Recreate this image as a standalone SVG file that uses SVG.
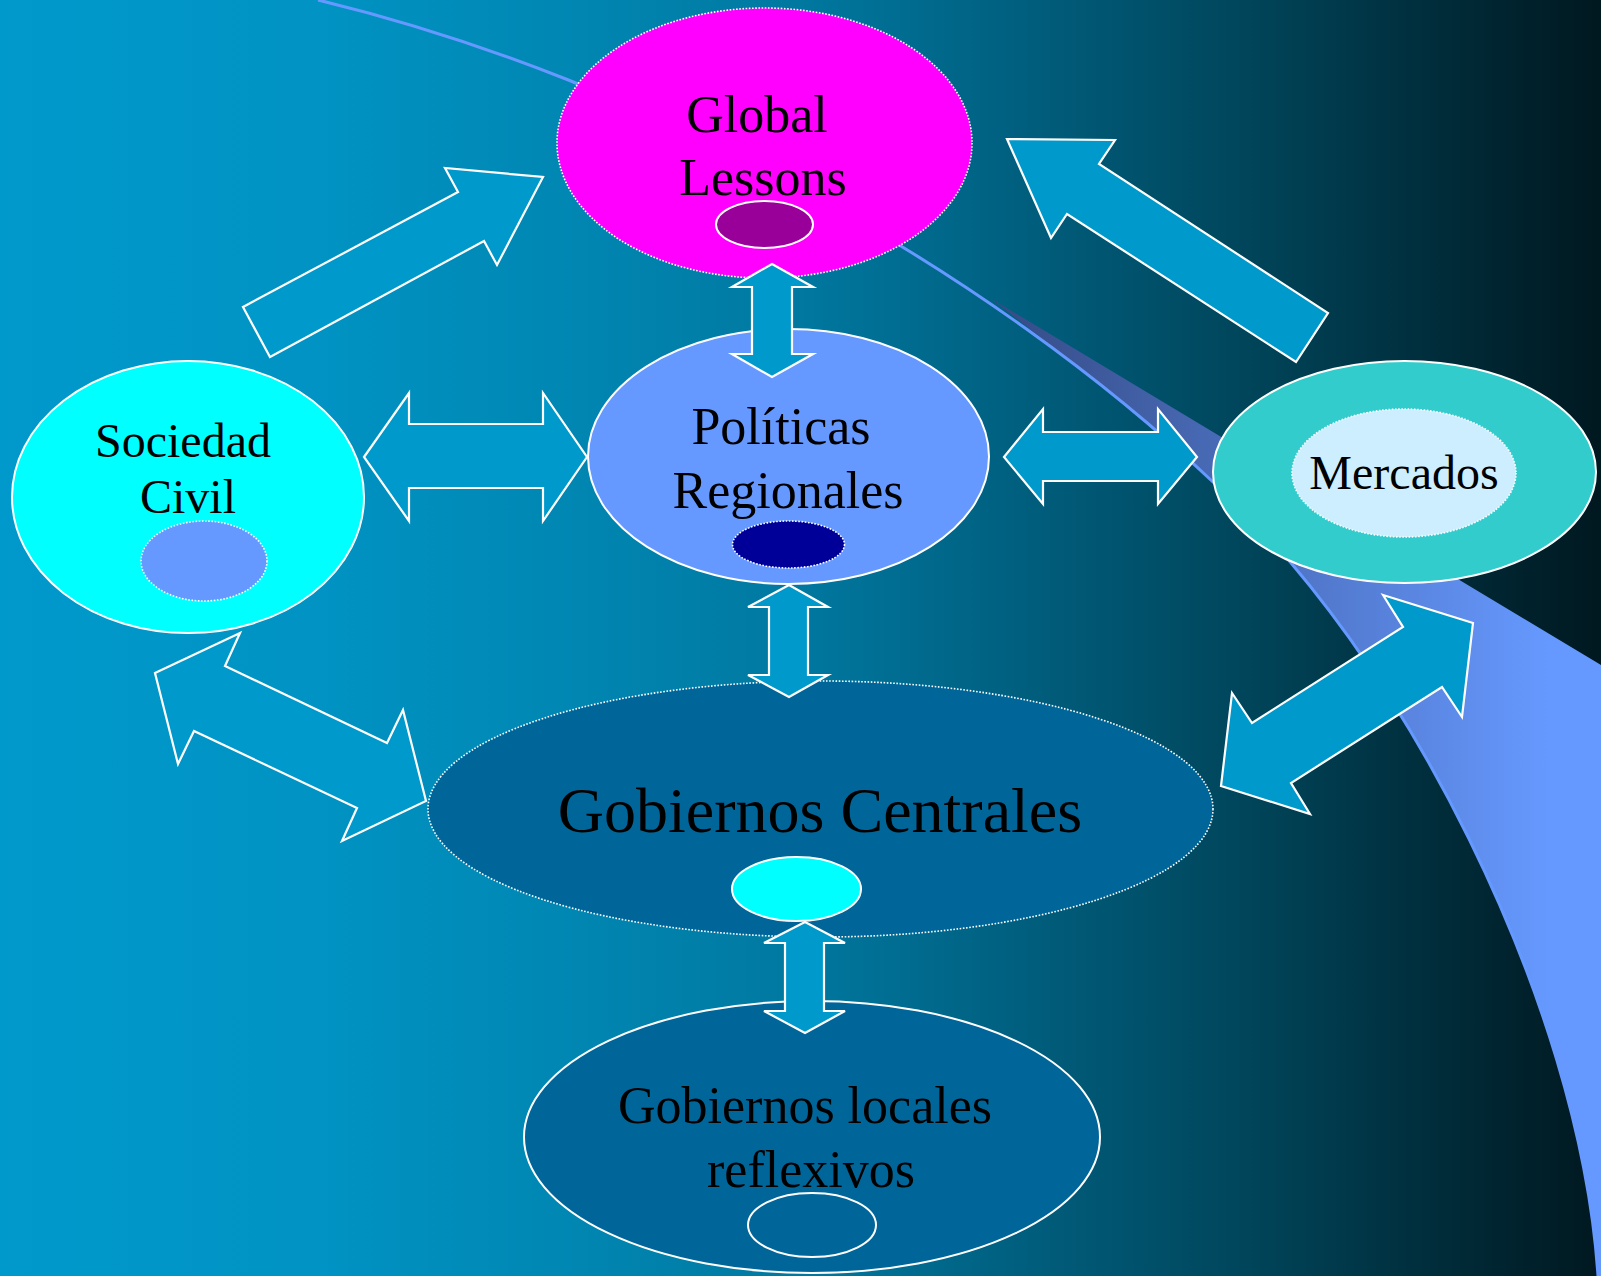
<svg xmlns="http://www.w3.org/2000/svg" width="1601" height="1276" viewBox="0 0 1601 1276">
<defs>
<linearGradient id="bg" x1="0" y1="0" x2="1" y2="0">
<stop offset="0" stop-color="#0099cc"/>
<stop offset="0.2" stop-color="#0093c3"/>
<stop offset="0.375" stop-color="#0085b0"/>
<stop offset="0.5" stop-color="#0078a0"/>
<stop offset="0.62" stop-color="#006283"/>
<stop offset="0.78" stop-color="#00455a"/>
<stop offset="0.9" stop-color="#002c3a"/>
<stop offset="1" stop-color="#001820"/>
</linearGradient>
<linearGradient id="wedge" gradientUnits="userSpaceOnUse" x1="990" y1="0" x2="1550" y2="0">
<stop offset="0" stop-color="#344a84"/>
<stop offset="1" stop-color="#6699ff"/>
</linearGradient>
<style>
.txt{font-family:"Liberation Serif","Times New Roman",serif;fill:#000;text-anchor:middle}
.solid{stroke:#fff;stroke-width:2}
.dotted{stroke:#fff;stroke-width:1.6;stroke-dasharray:1.6 1.6}
.arrow{fill:#0099cc;stroke:#fff;stroke-width:2.2;stroke-linejoin:miter}
</style>
</defs>
<rect width="1601" height="1276" fill="url(#bg)"/>
<g id="swoosh">
<path d="M990,298 L1601,665 L1601,1276 L1598,1276 C1580,1000 1400,650 1213,482 Q1110,390 990,298 Z" fill="url(#wedge)"/>
<path d="M318,0 C650,80 990,270 1213,482 C1400,650 1580,1000 1598,1276" fill="none" stroke="#6699ff" stroke-width="3"/>
</g>
<g id="global-lessons">
<ellipse cx="764.5" cy="143" rx="207.5" ry="135" fill="#ff00ff" class="dotted"/>
<ellipse cx="764.5" cy="224.5" rx="48.5" ry="23.5" fill="#990099" class="solid"/>
<text class="txt" font-size="52" x="757" y="132">Global</text>
<text class="txt" font-size="52" x="763" y="195">Lessons</text>
</g>
<g id="sociedad-civil">
<ellipse cx="188" cy="497" rx="176" ry="136" fill="#00ffff" class="solid"/>
<ellipse cx="204" cy="561" rx="63" ry="40" fill="#6699ff" class="dotted"/>
<text class="txt" font-size="48" x="183" y="457">Sociedad</text>
<text class="txt" font-size="48" x="188" y="513">Civil</text>
</g>
<g id="politicas-regionales">
<ellipse cx="788.5" cy="456.5" rx="200.5" ry="127.5" fill="#6699ff" class="solid"/>
<ellipse cx="788.5" cy="544.5" rx="56" ry="23.5" fill="#000099" class="dotted"/>
<text class="txt" font-size="52" x="781" y="444">Políticas</text>
<text class="txt" font-size="52" x="788" y="508">Regionales</text>
</g>
<g id="mercados">
<ellipse cx="1404.5" cy="472" rx="191.5" ry="111" fill="#33cccc" class="solid"/>
<ellipse cx="1404" cy="473" rx="112" ry="64" fill="#cceeff" class="dotted"/>
<text class="txt" font-size="48" x="1404" y="489">Mercados</text>
</g>
<g id="gobiernos-centrales">
<ellipse cx="820.5" cy="809" rx="392.5" ry="128" fill="#006699" class="dotted"/>
<ellipse cx="796.5" cy="889" rx="64.5" ry="32" fill="#00ffff" class="solid"/>
<text class="txt" font-size="64" x="820" y="832">Gobiernos Centrales</text>
</g>
<g id="gobiernos-locales">
<ellipse cx="812" cy="1137" rx="288" ry="136" fill="#006699" class="solid"/>
<ellipse cx="812" cy="1225" rx="64" ry="32" fill="#006699" class="solid"/>
<text class="txt" font-size="52" x="805" y="1123">Gobiernos locales</text>
<text class="txt" font-size="52" x="811" y="1187">reflexivos</text>
</g>
<g id="connectors">
<polygon class="arrow" points="243,307 458,192 445,168 543,177 497,265 484,241 270,357"/>
<polygon class="arrow" points="1007,139 1115,140 1099,164 1328,313 1296,362 1067,214 1051,238"/>
<polygon class="arrow" points="364,457 409,393 409,424 543,424 543,393 587,457 543,521 543,488 409,488 409,521"/>
<polygon class="arrow" points="1004,457 1043,409 1043,432 1158,432 1158,409 1197,457 1158,504 1158,481 1043,481 1043,504"/>
<polygon class="arrow" points="772,264 813,287 792,287 792,354 813,354 772,377 732,354 752,354 752,287 732,287"/>
<polygon class="arrow" points="789,585 828,607 808,607 808,675 828,675 789,697 748,675 769,675 769,607 748,607"/>
<polygon class="arrow" points="805,922 845,943 824,943 824,1011 845,1011 805,1033 764,1011 785,1011 785,943 764,943"/>
<polygon class="arrow" points="155,673 240,633 225,666 387,743 403,710 426,801 342,841 357,808 194,731 178,764"/>
<polygon class="arrow" points="1383,595 1473,623 1462,717 1442,687 1291,783 1310,814 1221,786 1232,693 1252,723 1403,627"/>
</g>
</svg>
